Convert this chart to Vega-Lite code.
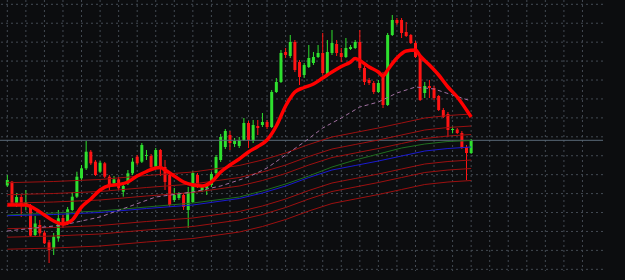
{
  "$schema": "https://vega.github.io/schema/vega-lite/v6.json",
  "width": 603,
  "height": 271,
  "autosize": {"type": "none"},
  "padding": {"left": 0, "top": 0, "right": 22, "bottom": 9},
  "background": "#0c0d0f",
  "config": {
    "view": {"stroke": null, "fill": "#0c0d0f"},
    "axis": {"disable": true}
  },
  "datasets": {
    "gx": [{"i":0},{"i":4},{"i":8},{"i":12},{"i":16},{"i":20},{"i":24},{"i":28},{"i":32},{"i":36},{"i":40},{"i":44},{"i":48},{"i":52},{"i":56},{"i":60},{"i":64},{"i":68},{"i":72},{"i":76},{"i":80},{"i":84},{"i":88},{"i":92},{"i":96},{"i":100},{"i":104},{"i":108},{"i":112},{"i":116},{"i":120},{"i":124}],
    "gy": [{"v":266.7},{"v":247.77},{"v":228.84},{"v":209.91},{"v":190.98},{"v":172.05},{"v":153.12},{"v":134.19},{"v":115.26},{"v":96.33},{"v":77.4},{"v":58.47},{"v":39.54},{"v":20.61},{"v":1.68}],
    "candles": [
      {"i":0,"o":85.5,"h":96,"l":84,"c":91},
      {"i":1,"o":89.3,"h":90,"l":65,"c":66},
      {"i":2,"o":68,"h":78,"l":64,"c":74},
      {"i":3,"o":74,"h":76,"l":54,"c":67},
      {"i":4,"o":67,"h":81,"l":61,"c":69},
      {"i":5,"o":66,"h":67,"l":34,"c":35.3},
      {"i":6,"o":36,"h":55,"l":34,"c":47.5},
      {"i":7,"o":46,"h":51,"l":34.3,"c":37.7},
      {"i":8,"o":38.3,"h":40,"l":27,"c":27.7},
      {"i":9,"o":28.7,"h":31,"l":8,"c":21},
      {"i":10,"o":22.7,"h":38,"l":16,"c":34.3},
      {"i":11,"o":32.7,"h":61,"l":29.3,"c":52.7},
      {"i":12,"o":53,"h":56,"l":43,"c":48},
      {"i":13,"o":49.3,"h":64,"l":46,"c":61.7},
      {"i":14,"o":61,"h":79,"l":60,"c":74.3},
      {"i":15,"o":74.3,"h":99.3,"l":73,"c":94.3},
      {"i":16,"o":92.7,"h":106,"l":91,"c":102.7},
      {"i":17,"o":102.7,"h":130,"l":101,"c":119.3},
      {"i":18,"o":119.3,"h":121,"l":106,"c":107.7},
      {"i":19,"o":109.3,"h":111,"l":95,"c":96},
      {"i":20,"o":99.3,"h":110,"l":98,"c":108.3},
      {"i":21,"o":107.7,"h":109,"l":93,"c":94.3},
      {"i":22,"o":94.3,"h":96,"l":81,"c":86},
      {"i":23,"o":87.7,"h":95,"l":86,"c":91.7},
      {"i":24,"o":91.7,"h":94,"l":81,"c":82.7},
      {"i":25,"o":79.3,"h":88,"l":74.3,"c":85},
      {"i":26,"o":87.7,"h":101,"l":86,"c":97.7},
      {"i":27,"o":97.7,"h":113,"l":96,"c":109.3},
      {"i":28,"o":114.3,"h":116,"l":106,"c":107.7},
      {"i":29,"o":109.3,"h":128,"l":108,"c":126},
      {"i":30,"o":115,"h":121,"l":111,"c":116},
      {"i":31,"o":115,"h":117,"l":103,"c":103.7},
      {"i":32,"o":104.3,"h":123,"l":103,"c":121},
      {"i":33,"o":121,"h":122,"l":95,"c":104.3},
      {"i":34,"o":104,"h":111,"l":81,"c":89},
      {"i":35,"o":96,"h":99,"l":64,"c":66},
      {"i":36,"o":71,"h":83,"l":69,"c":76},
      {"i":37,"o":73,"h":79,"l":71,"c":77},
      {"i":38,"o":76,"h":78,"l":61,"c":64},
      {"i":39,"o":61,"h":84,"l":43,"c":79},
      {"i":40,"o":69,"h":100,"l":68,"c":98},
      {"i":41,"o":96,"h":98,"l":83,"c":86},
      {"i":42,"o":81,"h":86,"l":79,"c":84},
      {"i":43,"o":83,"h":87,"l":76,"c":85.5},
      {"i":44,"o":86,"h":99,"l":84,"c":97},
      {"i":45,"o":98,"h":116,"l":96,"c":114},
      {"i":46,"o":111,"h":137,"l":109,"c":134},
      {"i":47,"o":124,"h":142,"l":122,"c":140},
      {"i":48,"o":136,"h":140,"l":121,"c":128},
      {"i":49,"o":127,"h":133,"l":124,"c":130},
      {"i":50,"o":125,"h":134,"l":123,"c":131},
      {"i":51,"o":131,"h":153,"l":130,"c":148},
      {"i":52,"o":148,"h":150,"l":123,"c":131},
      {"i":53,"o":130,"h":151,"l":128,"c":146},
      {"i":54,"o":145,"h":151,"l":136,"c":143},
      {"i":55,"o":146,"h":158,"l":144,"c":149},
      {"i":56,"o":149,"h":151,"l":142,"c":144},
      {"i":57,"o":144,"h":181,"l":143,"c":179},
      {"i":58,"o":179,"h":193,"l":178,"c":189},
      {"i":59,"o":189,"h":221,"l":188,"c":218},
      {"i":60,"o":219,"h":223,"l":213,"c":216},
      {"i":61,"o":215,"h":236,"l":213,"c":229},
      {"i":62,"o":229,"h":231,"l":199,"c":201},
      {"i":63,"o":209,"h":211,"l":186,"c":194},
      {"i":64,"o":196,"h":208,"l":193,"c":206},
      {"i":65,"o":204,"h":226,"l":203,"c":213},
      {"i":66,"o":208,"h":219,"l":206,"c":214},
      {"i":67,"o":214,"h":226,"l":213,"c":218},
      {"i":68,"o":218,"h":238,"l":196,"c":198},
      {"i":69,"o":196,"h":231,"l":194,"c":219},
      {"i":70,"o":218,"h":241,"l":216,"c":228},
      {"i":71,"o":227,"h":231,"l":215,"c":218},
      {"i":72,"o":218,"h":223,"l":209,"c":214},
      {"i":73,"o":214,"h":233,"l":213,"c":223},
      {"i":74,"o":222,"h":226,"l":221,"c":224},
      {"i":75,"o":223,"h":231,"l":222,"c":229},
      {"i":76,"o":229,"h":241,"l":201,"c":203},
      {"i":77,"o":203,"h":205,"l":186,"c":189},
      {"i":78,"o":191,"h":193,"l":186,"c":188},
      {"i":79,"o":188,"h":190,"l":177,"c":179},
      {"i":80,"o":179,"h":191,"l":178,"c":188},
      {"i":81,"o":197,"h":199,"l":163,"c":166},
      {"i":82,"o":166,"h":238,"l":165,"c":236},
      {"i":83,"o":236,"h":256,"l":235,"c":251},
      {"i":84,"o":251,"h":253,"l":246,"c":248},
      {"i":85,"o":251,"h":253,"l":233,"c":238},
      {"i":86,"o":239,"h":249,"l":234,"c":235},
      {"i":87,"o":236,"h":237,"l":227,"c":228},
      {"i":88,"o":228,"h":230,"l":213,"c":214},
      {"i":89,"o":214,"h":216,"l":170,"c":171},
      {"i":90,"o":178,"h":189,"l":173,"c":185},
      {"i":91,"o":185,"h":191,"l":173,"c":183},
      {"i":92,"o":183,"h":185,"l":171,"c":173},
      {"i":93,"o":175,"h":176,"l":160,"c":161},
      {"i":94,"o":161,"h":163,"l":153,"c":154},
      {"i":95,"o":157,"h":159,"l":134,"c":141},
      {"i":96,"o":141,"h":144.3,"l":137.7,"c":142},
      {"i":97,"o":141.5,"h":143,"l":137,"c":138},
      {"i":98,"o":138,"h":140,"l":122,"c":123},
      {"i":99,"o":124,"h":126,"l":91,"c":118},
      {"i":100,"o":118,"h":132,"l":117,"c":131}
    ],
    "thick": [
      {"i":0,"v":66},{"i":4,"v":66},{"i":6,"v":62},{"i":8,"v":56},{"i":10,"v":50},{"i":12,"v":47},{"i":14,"v":51},{"i":16,"v":64},{"i":18,"v":72},{"i":20,"v":81},{"i":22,"v":85.5},{"i":24,"v":86.5},{"i":26,"v":89},{"i":28,"v":95},{"i":30,"v":99.5},{"i":32,"v":103},{"i":33,"v":103.5},{"i":34,"v":101},{"i":36,"v":95},{"i":38,"v":89},{"i":40,"v":86},{"i":42,"v":85},{"i":44,"v":89},{"i":46,"v":99},{"i":48,"v":106},{"i":50,"v":112},{"i":52,"v":119},{"i":54,"v":124.5},{"i":56,"v":131},{"i":58,"v":145},{"i":60,"v":165},{"i":62,"v":179},{"i":64,"v":183.5},{"i":66,"v":187},{"i":68,"v":193},{"i":70,"v":199},{"i":72,"v":204.5},{"i":74,"v":209},{"i":75,"v":212.5},{"i":76,"v":210.5},{"i":78,"v":204},{"i":80,"v":199},{"i":81,"v":195},{"i":82,"v":201},{"i":84,"v":213},{"i":86,"v":220},{"i":88,"v":221},{"i":89,"v":215},{"i":91,"v":206},{"i":93,"v":196},{"i":95,"v":184},{"i":97,"v":174},{"i":99,"v":161},{"i":100,"v":154}
    ],
    "env": [
      {"i":0,"s":"e1","v":88.3},{"i":10,"s":"e1","v":89.5},{"i":20,"s":"e1","v":91.5},{"i":30,"s":"e1","v":95.5},{"i":40,"s":"e1","v":99},{"i":50,"s":"e1","v":105.5},{"i":55,"s":"e1","v":111},{"i":60,"s":"e1","v":118},{"i":65,"s":"e1","v":126.5},{"i":70,"s":"e1","v":134},{"i":75,"s":"e1","v":138.5},{"i":80,"s":"e1","v":143},{"i":85,"s":"e1","v":148},{"i":90,"s":"e1","v":153},{"i":95,"s":"e1","v":155.5},{"i":100,"s":"e1","v":157},
      {"i":0,"s":"e2","v":76.3},{"i":10,"s":"e2","v":77.5},{"i":20,"s":"e2","v":79.5},{"i":30,"s":"e2","v":83.5},{"i":40,"s":"e2","v":87},{"i":50,"s":"e2","v":93.5},{"i":55,"s":"e2","v":99},{"i":60,"s":"e2","v":106},{"i":65,"s":"e2","v":114.5},{"i":70,"s":"e2","v":122},{"i":75,"s":"e2","v":126.5},{"i":80,"s":"e2","v":131},{"i":85,"s":"e2","v":136},{"i":90,"s":"e2","v":141},{"i":95,"s":"e2","v":143.5},{"i":100,"s":"e2","v":145},
      {"i":0,"s":"e3","v":67.8},{"i":10,"s":"e3","v":69},{"i":20,"s":"e3","v":71},{"i":30,"s":"e3","v":75},{"i":40,"s":"e3","v":78.5},{"i":50,"s":"e3","v":85},{"i":55,"s":"e3","v":90.5},{"i":60,"s":"e3","v":97.5},{"i":65,"s":"e3","v":106},{"i":70,"s":"e3","v":113.5},{"i":75,"s":"e3","v":118},{"i":80,"s":"e3","v":122.5},{"i":85,"s":"e3","v":127.5},{"i":90,"s":"e3","v":132.5},{"i":95,"s":"e3","v":135},{"i":100,"s":"e3","v":136.5},
      {"i":0,"s":"e4","v":42.3},{"i":10,"s":"e4","v":43.5},{"i":20,"s":"e4","v":45.5},{"i":30,"s":"e4","v":49.5},{"i":40,"s":"e4","v":53},{"i":50,"s":"e4","v":59.5},{"i":55,"s":"e4","v":65},{"i":60,"s":"e4","v":72},{"i":65,"s":"e4","v":80.5},{"i":70,"s":"e4","v":88},{"i":75,"s":"e4","v":92.5},{"i":80,"s":"e4","v":97},{"i":85,"s":"e4","v":102},{"i":90,"s":"e4","v":107},{"i":95,"s":"e4","v":109.5},{"i":100,"s":"e4","v":111},
      {"i":0,"s":"e5","v":33.8},{"i":10,"s":"e5","v":35},{"i":20,"s":"e5","v":37},{"i":30,"s":"e5","v":41},{"i":40,"s":"e5","v":44.5},{"i":50,"s":"e5","v":51},{"i":55,"s":"e5","v":56.5},{"i":60,"s":"e5","v":63.5},{"i":65,"s":"e5","v":72},{"i":70,"s":"e5","v":79.5},{"i":75,"s":"e5","v":84},{"i":80,"s":"e5","v":88.5},{"i":85,"s":"e5","v":93.5},{"i":90,"s":"e5","v":98.5},{"i":95,"s":"e5","v":101},{"i":100,"s":"e5","v":102.5},
      {"i":0,"s":"e6","v":21.8},{"i":10,"s":"e6","v":23},{"i":20,"s":"e6","v":25},{"i":30,"s":"e6","v":29},{"i":40,"s":"e6","v":32.5},{"i":50,"s":"e6","v":39},{"i":55,"s":"e6","v":44.5},{"i":60,"s":"e6","v":51.5},{"i":65,"s":"e6","v":60},{"i":70,"s":"e6","v":67.5},{"i":75,"s":"e6","v":72},{"i":80,"s":"e6","v":76.5},{"i":85,"s":"e6","v":81.5},{"i":90,"s":"e6","v":86.5},{"i":95,"s":"e6","v":89},{"i":100,"s":"e6","v":90.5}
    ],
    "blue": [
      {"i":0,"v":55.3},{"i":10,"v":56.5},{"i":20,"v":58.5},{"i":30,"v":62.5},{"i":40,"v":66},{"i":50,"v":72.5},{"i":55,"v":78},{"i":60,"v":85},{"i":65,"v":93.5},{"i":70,"v":101},{"i":75,"v":105.5},{"i":80,"v":110},{"i":85,"v":115},{"i":90,"v":120},{"i":95,"v":122.5},{"i":100,"v":124}
    ],
    "green": [
      {"i":0,"v":56},{"i":20,"v":60},{"i":40,"v":68},{"i":50,"v":74},{"i":55,"v":80},{"i":60,"v":87},{"i":65,"v":95},{"i":70,"v":104},{"i":75,"v":111},{"i":80,"v":117},{"i":85,"v":123},{"i":90,"v":127},{"i":95,"v":129.5},{"i":100,"v":130.5}
    ],
    "purple": [
      {"i":0,"v":40},{"i":6,"v":43},{"i":12,"v":46},{"i":20,"v":54},{"i":26,"v":64},{"i":32,"v":74},{"i":40,"v":79},{"i":46,"v":85},{"i":52,"v":94},{"i":56,"v":103},{"i":60,"v":116},{"i":64,"v":129},{"i":68,"v":143},{"i":72,"v":153},{"i":76,"v":164},{"i":80,"v":169},{"i":84,"v":178},{"i":88,"v":184},{"i":92,"v":182},{"i":96,"v":176},{"i":100,"v":170}
    ]
  },
  "encoding": {
    "x": {"type": "quantitative", "scale": {"domain": [-0.5, 127.35], "nice": false, "zero": false}, "axis": null},
    "y": {"type": "quantitative", "scale": {"domain": [0, 271], "nice": false, "zero": false}, "axis": null}
  },
  "layer": [
    {
      "data": {"name": "gx"},
      "mark": {"type": "rule", "color": "#434a53", "strokeWidth": 1, "strokeDash": [2, 3]},
      "encoding": {"x": {"field": "i", "type": "quantitative"}, "y": null}
    },
    {
      "data": {"name": "gy"},
      "mark": {"type": "rule", "color": "#434a53", "strokeWidth": 1, "strokeDash": [2, 3]},
      "encoding": {"y": {"field": "v", "type": "quantitative"}, "x": null}
    },
    {
      "data": {"name": "candles"},
      "mark": {"type": "rule", "strokeWidth": 1},
      "encoding": {
        "x": {"field": "i", "type": "quantitative"},
        "y": {"field": "l", "type": "quantitative"},
        "y2": {"field": "h"},
        "color": {"condition": {"test": "datum.c >= datum.o", "value": "#2ee02e"}, "value": "#ff1414"}
      }
    },
    {
      "data": {"name": "candles"},
      "mark": {"type": "bar", "size": 3, "orient": "vertical"},
      "encoding": {
        "x": {"field": "i", "type": "quantitative"},
        "y": {"field": "o", "type": "quantitative"},
        "y2": {"field": "c"},
        "color": {"condition": {"test": "datum.c >= datum.o", "value": "#2ee02e"}, "value": "#ff1414"}
      }
    },
    {
      "data": {"values": [{"v": 130.7}]},
      "mark": {"type": "rule", "color": "#5b6b78", "strokeWidth": 1},
      "encoding": {"y": {"field": "v", "type": "quantitative"}, "x": null}
    },
    {
      "data": {"name": "env"},
      "mark": {"type": "line", "color": "#9c1010", "strokeWidth": 1},
      "encoding": {
        "x": {"field": "i", "type": "quantitative"},
        "y": {"field": "v", "type": "quantitative"},
        "detail": {"field": "s"}
      }
    },
    {
      "data": {"name": "green"},
      "mark": {"type": "line", "color": "#1f6e1f", "strokeWidth": 1},
      "encoding": {"x": {"field": "i", "type": "quantitative"}, "y": {"field": "v", "type": "quantitative"}}
    },
    {
      "data": {"name": "blue"},
      "mark": {"type": "line", "color": "#1a1ad0", "strokeWidth": 1},
      "encoding": {"x": {"field": "i", "type": "quantitative"}, "y": {"field": "v", "type": "quantitative"}}
    },
    {
      "data": {"name": "purple"},
      "mark": {"type": "line", "color": "#a070a0", "strokeWidth": 1, "strokeDash": [4, 3]},
      "encoding": {"x": {"field": "i", "type": "quantitative"}, "y": {"field": "v", "type": "quantitative"}}
    },
    {
      "data": {"name": "thick"},
      "mark": {"type": "line", "color": "#ff0000", "strokeWidth": 3.5, "interpolate": "monotone"},
      "encoding": {"x": {"field": "i", "type": "quantitative"}, "y": {"field": "v", "type": "quantitative"}}
    }
  ]
}
